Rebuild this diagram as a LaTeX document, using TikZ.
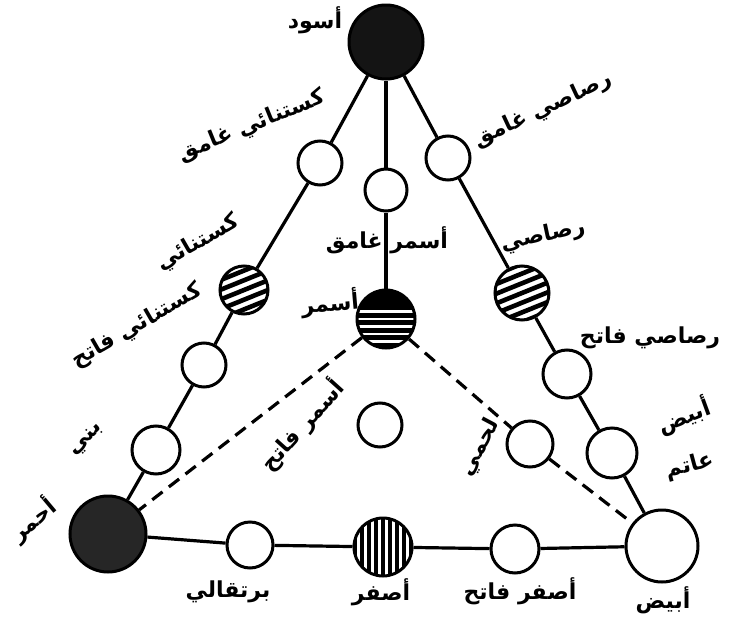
\documentclass[tikz,border=0pt]{standalone}
\usepackage{fontspec}
\usetikzlibrary{calc}
\newfontfamily\arabicfont[Script=Arabic]{DejaVu Sans}
\TeXXeTstate=1
\tikzset{
  ball/.style={circle, draw=black, line width=3pt, fill=white, inner sep=0pt, minimum size=#1},
  ball/.default=46pt,
  conn/.style={line width=3.2pt, draw=black},
  dconn/.style={conn, dash pattern=on 13pt off 8pt},
  lbl/.style={font=\arabicfont\bfseries\fontsize{22}{26}\selectfont, inner sep=0pt},
  diagstripes/.style={path picture={
     \coordinate (pc) at (path picture bounding box.center);
     \foreach \k in {-4,...,4}
       \draw[line width=4.6pt] ($(pc)+(112:\k*9pt)+(202:45pt)$) -- ($(pc)+(112:\k*9pt)+(22:45pt)$);}},
  tanstripes/.style={fill=black, path picture={
     \coordinate (pc) at (path picture bounding box.center);
     \foreach \k in {-1,...,3}
       \draw[white, line width=2.2pt] ($(pc)+(-45pt,-\k*7.5pt)$) -- ($(pc)+(45pt,-\k*7.5pt)$);}},
  vstripes/.style={path picture={
     \coordinate (pc) at (path picture bounding box.center);
     \foreach \k in {-4,...,4}
       \draw[line width=4pt] ($(pc)+(\k*7pt,-45pt)$) -- ($(pc)+(\k*7pt,45pt)$);}},
}
\begin{document}
\begin{tikzpicture}[x=1pt,y=-1pt]
\useasboundingbox (0,0) rectangle (729,627);
\fill[white] (0,0) rectangle (729,627);

% circles
\node[ball=74pt, fill=black!92] (black) at (386,42) {};
\node[ball=76pt, fill=black!85] (red) at (108,534) {};
\node[ball=72pt] (white) at (662,546) {};

\node[ball=44pt] (dchest) at (320,163) {};
\node[ball=48pt, diagstripes] (chest) at (244,290) {};
\node[ball=44pt] (lchest) at (204,365) {};
\node[ball=48pt] (brown) at (156,450) {};

\node[ball=44pt] (dgray) at (448,158) {};
\node[ball=54pt, diagstripes] (gray) at (522,293) {};
\node[ball=48pt] (lgray) at (567,374) {};
\node[ball=50pt] (dwhite) at (612,453) {};

\node[ball=42pt] (dtan) at (386,190) {};
\node[ball=58pt, tanstripes] (tan) at (386,319) {};
\node[ball=44pt] (ltan) at (380,425) {};
\node[ball=46pt] (lahmi) at (530,444) {};

\node[ball=46pt] (orange) at (250,545) {};
\node[ball=58pt, vstripes] (yellow) at (383,547) {};
\node[ball=48pt] (lyellow) at (515,549) {};

% connectors
\draw[conn] (black) -- (dchest);
\draw[conn] (dchest) -- (chest);
\draw[conn] (chest) -- (lchest);
\draw[conn] (lchest) -- (brown);
\draw[conn] (brown) -- (red);
\draw[conn] (black) -- (dgray);
\draw[conn] (dgray) -- (gray);
\draw[conn] (gray) -- (lgray);
\draw[conn] (lgray) -- (dwhite);
\draw[conn] (dwhite) -- (white);
\draw[conn] (black) -- (dtan);
\draw[conn] (dtan) -- (tan);
\draw[conn] (red) -- (orange);
\draw[conn] (orange) -- (yellow);
\draw[conn] (yellow) -- (lyellow);
\draw[conn] (lyellow) -- (white);
\draw[dconn] (tan) -- (red);
\draw[dconn] (tan) -- (lahmi);
\draw[dconn] (lahmi) -- (white);

% labels
\node[lbl] (tblack) at (315,20) {\beginR أسود\endR};
\node[lbl, rotate=22] (tdchest) at (252,126) {\beginR كستنائي غامق\endR};
\node[lbl, rotate=25] (tdgray) at (543,110) {\beginR رصاصي غامق\endR};
\node[lbl] (tdtan) at (387,240) {\beginR أسمر غامق\endR};
\node[lbl, rotate=30] (tchest) at (198,243) {\beginR كستنائي\endR};
\node[lbl, rotate=30] (tlchest) at (137,326) {\beginR كستنائي فاتح\endR};
\node[lbl, rotate=12] (tgray) at (543,236) {\beginR رصاصي\endR};
\node[lbl, rotate=5] (ttan) at (330,303) {\beginR أسمر\endR};
\node[lbl] (tlgray) at (650,338) {\beginR رصاصي فاتح\endR};
\node[lbl, rotate=45] (tbrown) at (87,440) {\beginR بني\endR};
\node[lbl, rotate=48] (tltan) at (302,425) {\beginR أسمر فاتح\endR};
\node[lbl, rotate=62] (tlahmi) at (480,448) {\beginR لحمي\endR};
\node[lbl, rotate=20] (tdwhiteA) at (684,416) {\beginR أبيض\endR};
\node[lbl, rotate=15] (tdwhiteB) at (690,466) {\beginR عاتم\endR};
\node[lbl, rotate=40] (tred) at (33,520) {\beginR أحمر\endR};
\node[lbl] (torange) at (228,592) {\beginR برتقالي\endR};
\node[lbl] (tyellow) at (381,592) {\beginR أصفر\endR};
\node[lbl] (tlyellow) at (520,591) {\beginR أصفر فاتح\endR};
\node[lbl] (twhite) at (663,600) {\beginR أبيض\endR};
\end{tikzpicture}
\end{document}
